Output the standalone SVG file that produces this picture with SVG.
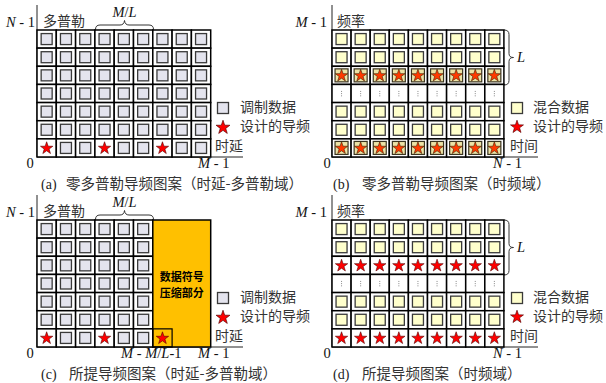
<svg xmlns="http://www.w3.org/2000/svg" xmlns:xlink="http://www.w3.org/1999/xlink" width="606" height="383" viewBox="0 0 606 383">
<style>
.cell{fill:#fff;stroke:#000;stroke-width:1.5}
.gin{fill:#E4E4EE;stroke:#3a3a3a;stroke-width:1.3}
.yin{fill:#FFFFCC;stroke:#3a3a3a;stroke-width:1.3}
.pin{fill:#EDE3A6;stroke:#3a3420;stroke-width:1.2}
.star{fill:#F00;stroke:#500;stroke-width:0.6}
.starb{fill:#FF3A00;stroke:#402000;stroke-width:0.6}
.dots{stroke:#888;stroke-width:1;stroke-dasharray:1 1.2}
.axis{stroke:#222;stroke-width:1;fill:none}
.brace{stroke:#333;stroke-width:1;fill:none}
.cjk{font-family:"Noto Sans CJK SC","Noto Sans",sans-serif;font-size:14px;fill:#333}
.cap{font-family:"Noto Sans CJK SC","Noto Sans",sans-serif;font-size:14.5px;fill:#333}
.capl{font-family:"Liberation Serif",serif;font-size:14px;fill:#222}
.math{font-family:"Liberation Serif",serif;font-size:14.5px;fill:#111}
.it{font-style:italic}
.bold{font-family:"Noto Sans CJK SC","Noto Sans",sans-serif;font-size:11px;font-weight:bold;fill:#000}
</style>
<defs>
<path id="st" d="M0,-6.5 L1.5,-2.06 L6.18,-2.01 L2.43,0.79 L3.82,5.26 L0,2.55 L-3.82,5.26 L-2.43,0.79 L-6.18,-2.01 L-1.5,-2.06 Z"/>
<g id="cg"><rect width="19.3" height="18.14" class="cell"/><rect x="4.15" y="3.57" width="11" height="11" class="gin"/></g>
<g id="ca"><rect width="19.3" height="18.14" class="cell"/><use xlink:href="#st" class="star" transform="translate(9.65,9.4)"/></g>
<g id="cy"><rect width="19.1" height="18.14" class="cell"/><rect x="4.05" y="3.57" width="11" height="11" class="yin"/></g>
<g id="cd"><rect width="19.1" height="18.14" class="cell"/><line x1="9.55" y1="6.5" x2="9.55" y2="12" class="dots"/></g>
<g id="cb"><rect width="19.1" height="18.14" class="cell"/><rect x="3.05" y="2.57" width="13" height="13" class="pin"/><use xlink:href="#st" class="starb" transform="translate(9.55,9.4)"/></g>
<g id="cs"><rect width="19.1" height="18.14" class="cell"/><use xlink:href="#st" class="star" transform="translate(9.55,9.4)"/></g>
<g id="rowG"><use xlink:href="#cg" x="0"/><use xlink:href="#cg" x="19.3"/><use xlink:href="#cg" x="38.6"/><use xlink:href="#cg" x="57.9"/><use xlink:href="#cg" x="77.2"/><use xlink:href="#cg" x="96.5"/><use xlink:href="#cg" x="115.8"/><use xlink:href="#cg" x="135.1"/><use xlink:href="#cg" x="154.4"/></g>
<g id="rowG6"><use xlink:href="#cg" x="0"/><use xlink:href="#cg" x="19.3"/><use xlink:href="#cg" x="38.6"/><use xlink:href="#cg" x="57.9"/><use xlink:href="#cg" x="77.2"/><use xlink:href="#cg" x="96.5"/></g>
<g id="rowA6"><use xlink:href="#ca" x="0"/><use xlink:href="#cg" x="19.3"/><use xlink:href="#cg" x="38.6"/><use xlink:href="#ca" x="57.9"/><use xlink:href="#cg" x="77.2"/><use xlink:href="#cg" x="96.5"/></g>
<g id="rowY"><use xlink:href="#cy" x="0"/><use xlink:href="#cy" x="19.1"/><use xlink:href="#cy" x="38.2"/><use xlink:href="#cy" x="57.3"/><use xlink:href="#cy" x="76.4"/><use xlink:href="#cy" x="95.5"/><use xlink:href="#cy" x="114.6"/><use xlink:href="#cy" x="133.7"/><use xlink:href="#cy" x="152.8"/></g>
<g id="rowD"><use xlink:href="#cd" x="0"/><use xlink:href="#cd" x="19.1"/><use xlink:href="#cd" x="38.2"/><use xlink:href="#cd" x="57.3"/><use xlink:href="#cd" x="76.4"/><use xlink:href="#cd" x="95.5"/><use xlink:href="#cd" x="114.6"/><use xlink:href="#cd" x="133.7"/><use xlink:href="#cd" x="152.8"/></g>
<g id="rowB"><use xlink:href="#cb" x="0"/><use xlink:href="#cb" x="19.1"/><use xlink:href="#cb" x="38.2"/><use xlink:href="#cb" x="57.3"/><use xlink:href="#cb" x="76.4"/><use xlink:href="#cb" x="95.5"/><use xlink:href="#cb" x="114.6"/><use xlink:href="#cb" x="133.7"/><use xlink:href="#cb" x="152.8"/></g>
<g id="rowS"><use xlink:href="#cs" x="0"/><use xlink:href="#cs" x="19.1"/><use xlink:href="#cs" x="38.2"/><use xlink:href="#cs" x="57.3"/><use xlink:href="#cs" x="76.4"/><use xlink:href="#cs" x="95.5"/><use xlink:href="#cs" x="114.6"/><use xlink:href="#cs" x="133.7"/><use xlink:href="#cs" x="152.8"/></g>
</defs>
<rect width="606" height="383" fill="#fff"/>

<!-- axes (connectors) -->
<g id="connectors">
<line x1="37" y1="5" x2="37" y2="157" class="axis"/>
<line x1="37" y1="157" x2="243" y2="157" class="axis"/>
<line x1="332" y1="5" x2="332" y2="157" class="axis"/>
<line x1="332" y1="157" x2="538" y2="157" class="axis"/>
<line x1="37" y1="195" x2="37" y2="347" class="axis"/>
<line x1="37" y1="347" x2="243" y2="347" class="axis"/>
<line x1="332" y1="195" x2="332" y2="347" class="axis"/>
<line x1="332" y1="347" x2="538" y2="347" class="axis"/>
<path class="brace" d="M95.5,29.5 Q95.5,25 100,25 L120,25 Q124,25 124.5,20.5 Q125,25 129,25 L149,25 Q153.5,25 153.5,29.5"/>
<path class="brace" d="M95.5,219.5 Q95.5,215 100,215 L120,215 Q124,215 124.5,210.5 Q125,215 129,215 L149,215 Q153.5,215 153.5,219.5"/>
<path class="brace" d="M504,30 Q509,30 509,34.5 L509,53.5 Q509,57.5 513.5,57.5 Q509,57.5 509,61.5 L509,80.5 Q509,85 504,85"/>
<path class="brace" d="M504,220 Q509,220 509,224.5 L509,243.5 Q509,247.5 513.5,247.5 Q509,247.5 509,251.5 L509,270.5 Q509,275 504,275"/>
</g>

<!-- panel a -->
<g id="panel-a">
<use xlink:href="#rowG" x="37" y="30"/>
<use xlink:href="#rowG" x="37" y="48.14"/>
<use xlink:href="#rowG" x="37" y="66.29"/>
<use xlink:href="#rowG" x="37" y="84.43"/>
<use xlink:href="#rowG" x="37" y="102.57"/>
<use xlink:href="#rowG" x="37" y="120.71"/>
<use xlink:href="#rowA6" x="37" y="138.86"/>
<use xlink:href="#ca" x="152.8" y="138.86"/>
<use xlink:href="#cg" x="172.1" y="138.86"/>
<use xlink:href="#cg" x="191.4" y="138.86"/>
<text x="35" y="27" class="math" text-anchor="end"><tspan class="it">N</tspan> - 1</text>
<text x="43" y="26" class="cjk">多普勒</text>
<text x="124.5" y="17" class="math" text-anchor="middle"><tspan class="it">M</tspan>/<tspan class="it">L</tspan></text>
<text x="30" y="168" class="math" text-anchor="middle">0</text>
<text x="198" y="168" class="math"><tspan class="it">M</tspan> - 1</text>
<text x="215" y="150.5" class="cjk">时延</text>
<rect x="217.5" y="102.5" width="11" height="11" class="gin"/>
<use xlink:href="#st" class="star" transform="translate(223,127.5) scale(1.12)"/>
<text x="240" y="112" class="cjk">调制数据</text>
<text x="240" y="131" class="cjk">设计的导频</text>
<text x="41" y="188.5" class="capl">(a)</text>
<text x="66" y="188.5" class="cap">零多普勒导频图案（时延-多普勒域）</text>
</g>

<!-- panel b -->
<g id="panel-b">
<use xlink:href="#rowY" x="332" y="30"/>
<use xlink:href="#rowY" x="332" y="48.14"/>
<use xlink:href="#rowB" x="332" y="66.29"/>
<use xlink:href="#rowD" x="332" y="84.43"/>
<use xlink:href="#rowY" x="332" y="102.57"/>
<use xlink:href="#rowY" x="332" y="120.71"/>
<use xlink:href="#rowB" x="332" y="138.86"/>
<text x="327" y="27" class="math" text-anchor="end"><tspan class="it">M</tspan> - 1</text>
<text x="337" y="26" class="cjk">频率</text>
<text x="517" y="62" class="math"><tspan class="it">L</tspan></text>
<text x="327" y="168" class="math" text-anchor="middle">0</text>
<text x="493" y="168" class="math"><tspan class="it">N</tspan> - 1</text>
<text x="510" y="150.5" class="cjk">时间</text>
<rect x="511.5" y="102.5" width="11" height="11" class="yin"/>
<use xlink:href="#st" class="star" transform="translate(517,127) scale(1.05)"/>
<text x="533" y="112" class="cjk">混合数据</text>
<text x="533" y="131" class="cjk">设计的导频</text>
<text x="333" y="188.5" class="capl">(b)</text>
<text x="362" y="188.5" class="cap">零多普勒导频图案（时频域）</text>
</g>

<!-- panel c -->
<g id="panel-c">
<use xlink:href="#rowG6" x="37" y="220"/>
<use xlink:href="#rowG6" x="37" y="238.14"/>
<use xlink:href="#rowG6" x="37" y="256.29"/>
<use xlink:href="#rowG6" x="37" y="274.43"/>
<use xlink:href="#rowG6" x="37" y="292.57"/>
<use xlink:href="#rowG6" x="37" y="310.71"/>
<use xlink:href="#rowA6" x="37" y="328.86"/>
<rect x="152.8" y="220" width="57.9" height="127" fill="#FFC000" stroke="#000" stroke-width="1.5"/>
<rect x="152.8" y="328.86" width="19.3" height="18.14" fill="none" stroke="#000" stroke-width="1.2"/>
<use xlink:href="#st" class="star" transform="translate(162.45,338.3)"/>
<text x="181.8" y="281" class="bold" text-anchor="middle">数据符号</text>
<text x="181.8" y="297" class="bold" text-anchor="middle">压缩部分</text>
<text x="35" y="217" class="math" text-anchor="end"><tspan class="it">N</tspan> - 1</text>
<text x="43" y="216" class="cjk">多普勒</text>
<text x="124.5" y="207" class="math" text-anchor="middle"><tspan class="it">M</tspan>/<tspan class="it">L</tspan></text>
<text x="30" y="358" class="math" text-anchor="middle">0</text>
<text x="121" y="358" class="math"><tspan class="it">M</tspan> - <tspan class="it">M</tspan>/<tspan class="it">L</tspan>-1</text>
<text x="198" y="358" class="math"><tspan class="it">M</tspan> - 1</text>
<text x="215" y="340.5" class="cjk">时延</text>
<rect x="217.5" y="292.5" width="11" height="11" class="gin"/>
<use xlink:href="#st" class="star" transform="translate(223,317.5) scale(1.12)"/>
<text x="240" y="302" class="cjk">调制数据</text>
<text x="240" y="321" class="cjk">设计的导频</text>
<text x="41" y="378.5" class="capl">(c)</text>
<text x="69" y="378.5" class="cap">所提导频图案（时延-多普勒域）</text>
</g>

<!-- panel d -->
<g id="panel-d">
<use xlink:href="#rowY" x="332" y="220"/>
<use xlink:href="#rowY" x="332" y="238.14"/>
<use xlink:href="#rowS" x="332" y="256.29"/>
<use xlink:href="#rowD" x="332" y="274.43"/>
<use xlink:href="#rowY" x="332" y="292.57"/>
<use xlink:href="#rowY" x="332" y="310.71"/>
<use xlink:href="#rowS" x="332" y="328.86"/>
<text x="327" y="217" class="math" text-anchor="end"><tspan class="it">M</tspan> - 1</text>
<text x="337" y="216" class="cjk">频率</text>
<text x="517" y="252" class="math"><tspan class="it">L</tspan></text>
<text x="327" y="358" class="math" text-anchor="middle">0</text>
<text x="493" y="358" class="math"><tspan class="it">N</tspan> - 1</text>
<text x="510" y="340.5" class="cjk">时间</text>
<rect x="511.5" y="292.5" width="11" height="11" class="yin"/>
<use xlink:href="#st" class="star" transform="translate(517,317) scale(1.05)"/>
<text x="533" y="302" class="cjk">混合数据</text>
<text x="533" y="321" class="cjk">设计的导频</text>
<text x="333" y="378.5" class="capl">(d)</text>
<text x="362" y="378.5" class="cap">所提导频图案（时频域）</text>
</g>
</svg>
